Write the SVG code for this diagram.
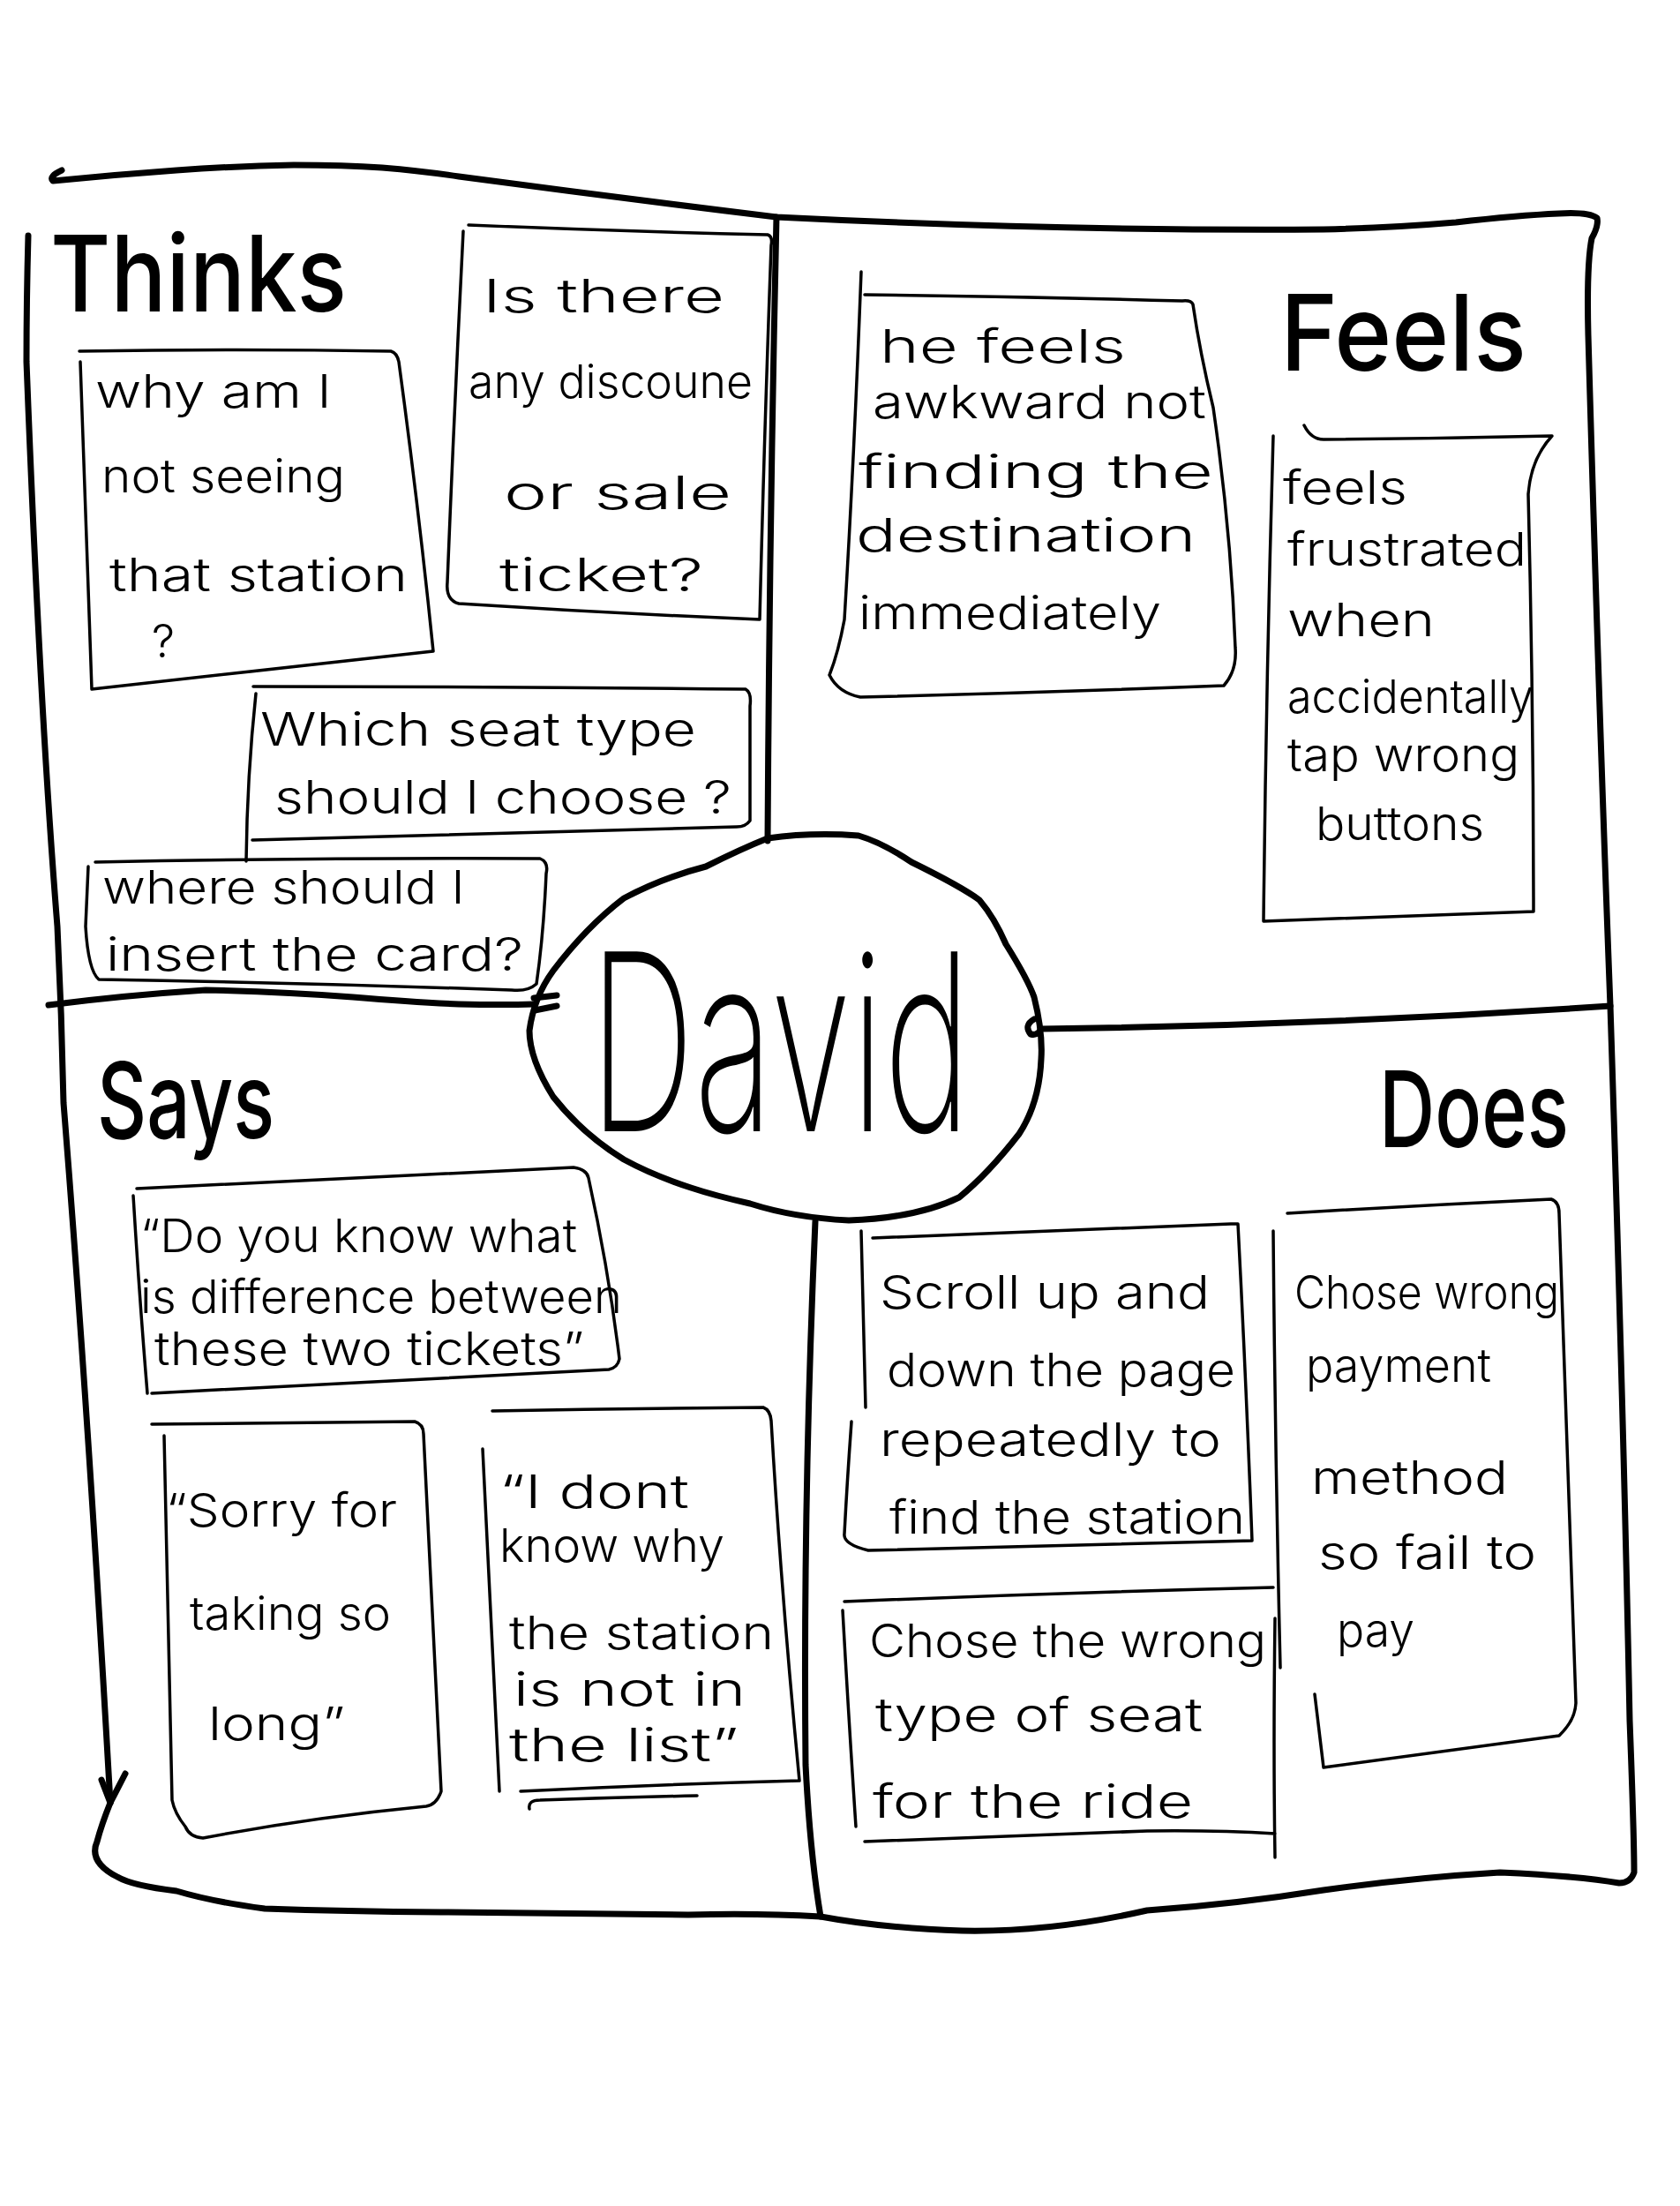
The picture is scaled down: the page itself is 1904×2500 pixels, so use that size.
<svg xmlns="http://www.w3.org/2000/svg" width="1904" height="2500" viewBox="0 0 1904 2500">
<style>
.frame{fill:none;stroke:#000;stroke-width:7;stroke-linecap:round;stroke-linejoin:round}
.note{fill:none;stroke:#000;stroke-width:3.5;stroke-linecap:round;stroke-linejoin:round}
.t{font-family:Inter,"Liberation Sans","DejaVu Sans",sans-serif;font-size:52px;font-weight:300;fill:#000}
.h{font-family:Inter,"Liberation Sans","DejaVu Sans",sans-serif;font-size:120px;font-weight:500;fill:#000}
.big{font-family:Inter,"Liberation Sans","DejaVu Sans",sans-serif;font-size:280px;font-weight:200;fill:#000}
</style>
<rect width="1904" height="2500" fill="#fff"/>
<g id="connectors">
  <path class="frame" d="M 70 193 Q 55 200 60 205 Q 130 198 200 193 Q 270 188 333 187 Q 390 187 433 190 Q 480 194 520 200 Q 700 224 880 246 Q 1200 262 1500 260 Q 1580 258 1650 252 Q 1720 244 1767 242 Q 1800 240 1810 247 Q 1812 256 1804 270 Q 1798 300 1800 380 Q 1812 800 1825 1140 Q 1840 1600 1847 1950 Q 1852 2080 1852 2122 Q 1848 2134 1835 2134 Q 1790 2126 1700 2122 Q 1600 2128 1500 2142 Q 1400 2158 1300 2165 Q 1190 2190 1090 2188 Q 1000 2185 930 2172 Q 860 2168 780 2170 Q 640 2168 500 2167 Q 390 2166 300 2163 Q 240 2155 200 2143 Q 150 2137 133 2127 Q 100 2110 110 2087 Q 115 2068 125 2043"/>
  <path class="frame" d="M 32 267 Q 30 340 30 410 Q 45 800 65 1050 Q 70 1150 72 1250 Q 100 1600 125 2043"/>
  <path class="frame" d="M 115 2017 L 125 2043 L 142 2010"/>
  <path class="frame" d="M 880 246 Q 872 600 870 953"/>
  <path class="frame" d="M 55 1139 Q 140 1128 233 1122 Q 320 1124 400 1130 Q 470 1136 520 1138 Q 570 1139 605 1138"/>
  <path class="frame" d="M 605 1131 L 631 1128 M 606 1145 L 631 1140"/>
  <path class="frame" d="M 1172 1155 Q 1160 1162 1168 1172 Q 1176 1174 1180 1166 Q 1500 1162 1825 1140"/>
  <path class="frame" d="M 924 1384 Q 910 1700 913 2000 Q 918 2100 930 2172"/>
</g>
<g id="center-david">
  <path class="frame" d="M 870 950 Q 920 943 973 947 Q 1000 955 1033 977 Q 1090 1005 1110 1020 Q 1127 1040 1140 1070 Q 1165 1110 1172 1130 Q 1182 1170 1180 1200 Q 1178 1250 1155 1285 Q 1120 1330 1087 1357 Q 1040 1380 962 1383 Q 900 1380 850 1364 Q 810 1355 783 1346 Q 740 1332 707 1314 Q 660 1285 627 1243 Q 600 1200 600 1168 Q 605 1130 627 1100 Q 665 1050 707 1018 Q 750 995 800 982 Q 840 962 870 950 Z"/>
  <text class="big" x="668" y="1282" textLength="432" lengthAdjust="spacingAndGlyphs">David</text>
</g>
<g id="heading-thinks"><text class="h" x="57" y="353" font-size="125" textLength="336" lengthAdjust="spacingAndGlyphs">Thinks</text></g>
<g id="heading-feels"><text class="h" x="1451" y="420" font-size="135" textLength="279" lengthAdjust="spacingAndGlyphs">Feels</text></g>
<g id="heading-says"><text class="h" x="110" y="1290" textLength="201" lengthAdjust="spacingAndGlyphs">Says</text></g>
<g id="heading-does"><text class="h" x="1563" y="1300" font-size="135" textLength="215" lengthAdjust="spacingAndGlyphs">Does</text></g>

<g id="note-why-am-i">
  <path class="note" d="M 90 398 Q 270 395 443 398 Q 450 400 452 410 Q 475 580 491 738 Q 300 760 104 781 Q 97 600 91 410"/>
  <text class="t" x="108" y="462" textLength="267" lengthAdjust="spacingAndGlyphs">why am l</text>
  <text class="t" x="115" y="558" textLength="276" lengthAdjust="spacingAndGlyphs">not seeing</text>
  <text class="t" x="124" y="670" textLength="338" lengthAdjust="spacingAndGlyphs">that station</text>
  <text class="t" x="172" y="745">?</text>
</g>
<g id="note-discount">
  <path class="note" d="M 531 255 Q 700 262 870 266 Q 876 268 874 278 Q 866 500 861 702 Q 690 695 520 684 Q 505 680 507 660 Q 515 460 525 262"/>
  <text class="t" x="547" y="354" textLength="274" lengthAdjust="spacingAndGlyphs">Is there</text>
  <text class="t" x="531" y="451" textLength="322" lengthAdjust="spacingAndGlyphs">any discoune</text>
  <text class="t" x="571" y="577" textLength="258" lengthAdjust="spacingAndGlyphs">or sale</text>
  <text class="t" x="566" y="670" textLength="231" lengthAdjust="spacingAndGlyphs">ticket?</text>
</g>
<g id="note-seat-type">
  <path class="note" d="M 287 778 Q 560 778 845 781 Q 852 785 850 800 L 850 930 Q 845 937 835 937 Q 570 944 286 952 M 290 786 Q 280 880 279 976"/>
  <text class="t" x="295" y="845" textLength="494" lengthAdjust="spacingAndGlyphs">Which seat type</text>
  <text class="t" x="311" y="922" textLength="518" lengthAdjust="spacingAndGlyphs">should l choose ?</text>
</g>
<g id="note-insert-card">
  <path class="note" d="M 108 977 Q 360 972 612 973 Q 622 977 619 990 Q 616 1060 608 1115 Q 598 1124 580 1122 Q 350 1114 112 1110 Q 100 1100 97 1050 L 100 982"/>
  <text class="t" x="116" y="1024" font-size="48" textLength="410" lengthAdjust="spacingAndGlyphs">where should l</text>
  <text class="t" x="120" y="1100" font-size="48" textLength="473" lengthAdjust="spacingAndGlyphs">insert the card?</text>
</g>

<g id="note-awkward">
  <path class="note" d="M 976 308 Q 968 520 957 702 Q 950 740 940 765 Q 950 785 975 790 Q 1180 785 1387 777 Q 1402 760 1400 734 Q 1395 600 1375 462 Q 1360 400 1352 345 Q 1350 340 1340 341 Q 1160 336 980 334"/>
  <text class="t" x="997" y="411" textLength="279" lengthAdjust="spacingAndGlyphs">he feels</text>
  <text class="t" x="989" y="474" textLength="378" lengthAdjust="spacingAndGlyphs">awkward not</text>
  <text class="t" x="973" y="553" textLength="402" lengthAdjust="spacingAndGlyphs">finding the</text>
  <text class="t" x="970" y="625" textLength="385" lengthAdjust="spacingAndGlyphs">destination</text>
  <text class="t" x="973" y="713" textLength="343" lengthAdjust="spacingAndGlyphs">immediately</text>
</g>
<g id="note-frustrated">
  <path class="note" d="M 1478 482 Q 1486 498 1500 498 Q 1630 497 1759 494 Q 1735 520 1732 560 Q 1738 800 1738 1033 Q 1590 1038 1432 1044 Q 1435 770 1443 494"/>
  <text class="t" x="1454" y="571" textLength="141" lengthAdjust="spacingAndGlyphs">feels</text>
  <text class="t" x="1459" y="641" textLength="271" lengthAdjust="spacingAndGlyphs">frustrated</text>
  <text class="t" x="1459" y="721" textLength="167" lengthAdjust="spacingAndGlyphs">when</text>
  <text class="t" x="1459" y="808" textLength="279" lengthAdjust="spacingAndGlyphs">accidentally</text>
  <text class="t" x="1459" y="874" textLength="263" lengthAdjust="spacingAndGlyphs">tap wrong</text>
  <text class="t" x="1491" y="952" textLength="191" lengthAdjust="spacingAndGlyphs">buttons</text>
</g>

<g id="note-difference">
  <path class="note" d="M 155 1347 Q 400 1336 650 1323 Q 665 1325 667 1335 Q 690 1440 702 1540 Q 700 1550 690 1552 Q 430 1565 172 1579 M 151 1355 Q 158 1470 167 1579"/>
  <text class="t" x="159" y="1419" font-size="46" textLength="495" lengthAdjust="spacingAndGlyphs">“Do you know what</text>
  <text class="t" x="159" y="1488" font-size="46" textLength="546" lengthAdjust="spacingAndGlyphs">is difference between</text>
  <text class="t" x="175" y="1547" font-size="46" textLength="487" lengthAdjust="spacingAndGlyphs">these two tickets”</text>
</g>
<g id="note-sorry">
  <path class="note" d="M 172 1614 Q 320 1612 470 1611 Q 480 1614 480 1625 Q 490 1840 500 2030 Q 495 2045 483 2047 Q 350 2060 230 2083 Q 215 2082 210 2070 Q 198 2055 195 2040 Q 190 1840 186 1627"/>
  <text class="t" x="188" y="1730" textLength="262" lengthAdjust="spacingAndGlyphs">“Sorry for</text>
  <text class="t" x="215" y="1847" textLength="228" lengthAdjust="spacingAndGlyphs">taking so</text>
  <text class="t" x="236" y="1972" textLength="155" lengthAdjust="spacingAndGlyphs">long”</text>
</g>
<g id="note-dont-know">
  <path class="note" d="M 558 1599 Q 715 1596 865 1595 Q 873 1598 874 1610 Q 885 1800 906 2018 Q 750 2022 590 2030 M 547 1642 Q 556 1830 566 2030 M 600 2050 Q 598 2040 612 2040 Q 700 2037 790 2035"/>
  <text class="t" x="566" y="1709" textLength="215" lengthAdjust="spacingAndGlyphs">“I dont</text>
  <text class="t" x="566" y="1770" textLength="255" lengthAdjust="spacingAndGlyphs">know why</text>
  <text class="t" x="577" y="1869" textLength="300" lengthAdjust="spacingAndGlyphs">the station</text>
  <text class="t" x="582" y="1933" textLength="263" lengthAdjust="spacingAndGlyphs">is not in</text>
  <text class="t" x="577" y="1996" textLength="260" lengthAdjust="spacingAndGlyphs">the list”</text>
</g>

<g id="note-scroll">
  <path class="note" d="M 989 1403 Q 1190 1395 1395 1387 L 1403 1387 Q 1412 1560 1419 1746 Q 1200 1752 984 1757 Q 955 1750 957 1738 Q 960 1680 965 1611 M 976 1395 Q 979 1500 981 1595"/>
  <text class="t" x="997" y="1483" textLength="374" lengthAdjust="spacingAndGlyphs">Scroll up and</text>
  <text class="t" x="1005" y="1571" textLength="395" lengthAdjust="spacingAndGlyphs">down the page</text>
  <text class="t" x="997" y="1650" textLength="387" lengthAdjust="spacingAndGlyphs">repeatedly to</text>
  <text class="t" x="1008" y="1738" textLength="403" lengthAdjust="spacingAndGlyphs">find the station</text>
</g>
<g id="note-seat">
  <path class="note" d="M 957 1815 Q 1200 1805 1443 1799 M 955 1825 Q 962 1950 970 2070 M 980 2087 Q 1150 2080 1300 2075 Q 1380 2074 1445 2078 M 1445 1834 Q 1443 1980 1445 2105"/>
  <text class="t" x="985" y="1878" textLength="450" lengthAdjust="spacingAndGlyphs">Chose the wrong</text>
  <text class="t" x="992" y="1962" textLength="371" lengthAdjust="spacingAndGlyphs">type of seat</text>
  <text class="t" x="989" y="2060" textLength="363" lengthAdjust="spacingAndGlyphs">for the ride</text>
</g>
<g id="note-payment">
  <path class="note" d="M 1459 1375 Q 1610 1366 1758 1359 Q 1767 1362 1767 1375 Q 1775 1640 1786 1930 Q 1785 1950 1767 1967 Q 1630 1985 1500 2003 Q 1495 1960 1490 1920 M 1443 1395 Q 1445 1640 1451 1890"/>
  <text class="t" x="1467" y="1483" textLength="300" lengthAdjust="spacingAndGlyphs">Chose wrong</text>
  <text class="t" x="1480" y="1566" textLength="210" lengthAdjust="spacingAndGlyphs">payment</text>
  <text class="t" x="1486" y="1693" textLength="223" lengthAdjust="spacingAndGlyphs">method</text>
  <text class="t" x="1494" y="1778" textLength="247" lengthAdjust="spacingAndGlyphs">so fail to</text>
  <text class="t" x="1515" y="1866" textLength="88" lengthAdjust="spacingAndGlyphs">pay</text>
</g>
</svg>
